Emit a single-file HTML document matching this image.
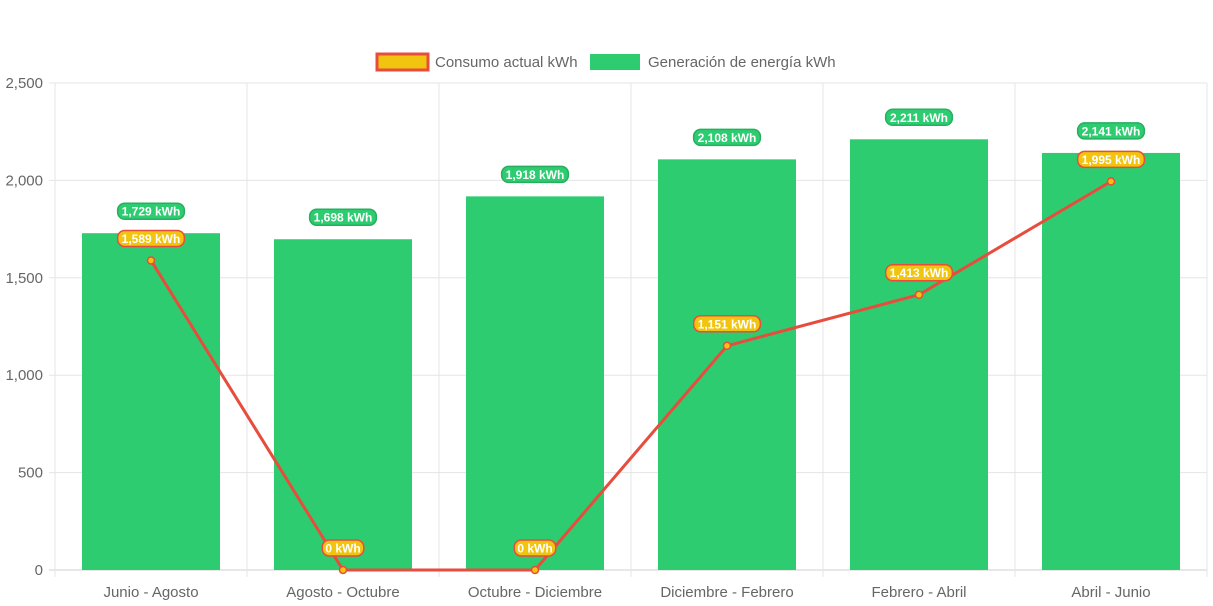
<!DOCTYPE html>
<html><head><meta charset="utf-8"><style>
body{margin:0;background:#fff;}
svg{display:block;font-family:"Liberation Sans",Arial,sans-serif;}
</style></head><body>
<svg id="c" width="1213" height="606"></svg>
<script>
const categories=["Junio - Agosto","Agosto - Octubre","Octubre - Diciembre","Diciembre - Febrero","Febrero - Abril","Abril - Junio"];
const generation=[1729,1698,1918,2108,2211,2141];
const consumption=[1589,0,0,1151,1413,1995];
const yTicks=[0,500,1000,1500,2000,2500];
const NS="http://www.w3.org/2000/svg";
const svg=document.getElementById('c');
const L=55,R=1207,T=83,B=570,yMax=2500;
const bw=(R-L)/categories.length;
const y=v=>B-(v/yMax)*(B-T);
const xc=i=>L+bw*(i+0.5);
function mk(tag,attrs,parent){const e=document.createElementNS(NS,tag);for(const k in attrs)e.setAttribute(k,attrs[k]);(parent||svg).appendChild(e);return e;}
const fmt=v=>v.toLocaleString('en-US');
yTicks.forEach(t=>{
 const l=mk('line',{x1:L-6,x2:R,y1:y(t),y2:y(t),stroke:t===0?'#cfcfcf':'#e5e5e5'});
 
 
 const tx=mk('text',{x:L-12,y:y(t)+5,'text-anchor':'end','font-size':15,fill:'#666'});
 tx.textContent=fmt(t);
 
 
});
for(let i=0;i<=categories.length;i++){
 const l=mk('line',{x1:L+bw*i,x2:L+bw*i,y1:T,y2:B+7,stroke:'#e5e5e5'});
 
 
}
generation.forEach((v,i)=>{
 const r=mk('rect',{x:xc(i)-69,y:y(v),width:138,height:B-y(v),fill:'#2ecc71'});
 
 
 const tx=mk('text',{x:xc(i),y:B+27,'text-anchor':'middle','font-size':15,fill:'#666'});
 tx.textContent=categories[i];
 
 
});
const pts=consumption.map((v,i)=>xc(i)+','+y(v)).join(' ');
const pl=mk('polyline',{points:pts,fill:'none',stroke:'#e74c3c','stroke-width':3});


consumption.forEach((v,i)=>{
 const c=mk('circle',{cx:xc(i),cy:y(v),r:3.5,fill:'#f1c40f',stroke:'#e74c3c','stroke-width':1.5});
 
 
});
function label(cx,cy,text,fill,stroke,name){
 const w=text.length*6.3+10;
 const g=mk('g',{});
 
 
 mk('rect',{x:cx-w/2,y:cy-8,width:w,height:16,rx:7,fill:fill,stroke:stroke,'stroke-width':1.5},g);
 const t=mk('text',{x:cx,y:cy+4.5,'text-anchor':'middle','font-size':12,'font-weight':'bold',fill:'#fff'},g);
 t.textContent=text;
}
generation.forEach((v,i)=>label(xc(i),y(v)-22,fmt(v)+' kWh','#2ecc71','#27ae60','generation-value-label'));
consumption.forEach((v,i)=>label(xc(i),y(v)-22,fmt(v)+' kWh','#f1c40f','#e74c3c','consumption-value-label'));
const lg=mk('g',{});


const r1=mk('rect',{x:377,y:54,width:51,height:16,fill:'#f1c40f',stroke:'#e74c3c','stroke-width':3},lg);


const t1=mk('text',{x:435,y:67,'font-size':15,fill:'#666'},lg);t1.textContent='Consumo actual kWh';


const r2=mk('rect',{x:590,y:54,width:50,height:16,fill:'#2ecc71'},lg);


const t2=mk('text',{x:648,y:67,'font-size':15,fill:'#666'},lg);t2.textContent='Generación de energía kWh';


</script>
</body></html>
